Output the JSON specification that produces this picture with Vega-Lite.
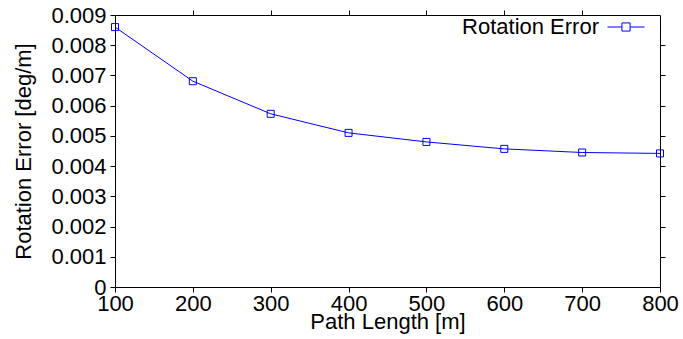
{
  "$schema": "https://vega.github.io/schema/vega-lite/v6.json",
  "width": 545,
  "height": 272,
  "autosize": "none",
  "padding": {"left": 115, "top": 15, "right": 23, "bottom": 52},
  "background": "white",
  "config": {
    "font": "Liberation Sans",
    "view": {"stroke": "black", "strokeWidth": 1},
    "axis": {
      "grid": false,
      "domain": false,
      "labelFont": "Liberation Sans",
      "labelFontSize": 22,
      "labelColor": "black",
      "labelFlush": false,
      "labelOverlap": false,
      "titleFont": "Liberation Sans",
      "titleFontSize": 22,
      "titleFontWeight": "normal",
      "titleColor": "black",
      "tickColor": "black",
      "tickSize": 5,
      "tickWidth": 1
    }
  },
  "data": {
    "values": [
      {"len": 100, "err": 0.0086, "series": "Rotation Error"},
      {"len": 200, "err": 0.00681, "series": "Rotation Error"},
      {"len": 300, "err": 0.00573, "series": "Rotation Error"},
      {"len": 400, "err": 0.0051, "series": "Rotation Error"},
      {"len": 500, "err": 0.0048, "series": "Rotation Error"},
      {"len": 600, "err": 0.00457, "series": "Rotation Error"},
      {"len": 700, "err": 0.00445, "series": "Rotation Error"},
      {"len": 800, "err": 0.00442, "series": "Rotation Error"}
    ]
  },
  "layer": [
    {
      "mark": {"type": "line", "strokeWidth": 1, "point": {"shape": "square", "filled": false, "size": 49, "strokeWidth": 1}},
      "encoding": {
        "x": {"field": "len", "type": "quantitative", "scale": {"domain": [100, 800], "nice": false, "zero": false},
              "axis": {"orient": "bottom", "ticks": true, "values": [100,200,300,400,500,600,700,800], "title": "Path Length [m]", "labelPadding": 1, "titlePadding": -3}},
        "y": {"field": "err", "type": "quantitative", "scale": {"domain": [0, 0.009], "nice": false},
              "axis": {"orient": "left", "ticks": true, "values": [0,0.001,0.002,0.003,0.004,0.005,0.006,0.007,0.008,0.009], "format": ".3~f", "title": "Rotation Error [deg/m]", "labelPadding": 4, "titlePadding": 15}},
        "color": {"field": "series", "type": "nominal", "scale": {"range": ["#0000ff"]},
                  "legend": {"title": null, "orient": "none", "legendX": 492, "legendY": -7, "padding": 0,
                             "symbolType": "M-1,0H-0.22M0.22,0H1M-0.22,-0.22H0.22V0.22H-0.22Z",
                             "symbolSize": 1369, "symbolStrokeWidth": 1, "symbolFillColor": "transparent", "symbolStrokeColor": "#0000ff",
                             "labelAlign": "right", "labelOffset": -46, "labelFontSize": 22, "labelColor": "black", "labelFont": "Liberation Sans"}}
      }
    },
    {
      "mark": {"type": "line", "opacity": 0},
      "encoding": {
        "x": {"field": "len", "type": "quantitative", "axis": {"orient": "top", "values": [200,300,400,500,600,700], "labels": false, "title": null}},
        "y": {"field": "err", "type": "quantitative", "axis": {"orient": "right", "values": [0.001,0.002,0.003,0.004,0.005,0.006,0.007,0.008], "labels": false, "title": null}}
      }
    }
  ],
  "resolve": {"axis": {"x": "independent", "y": "independent"}}
}
